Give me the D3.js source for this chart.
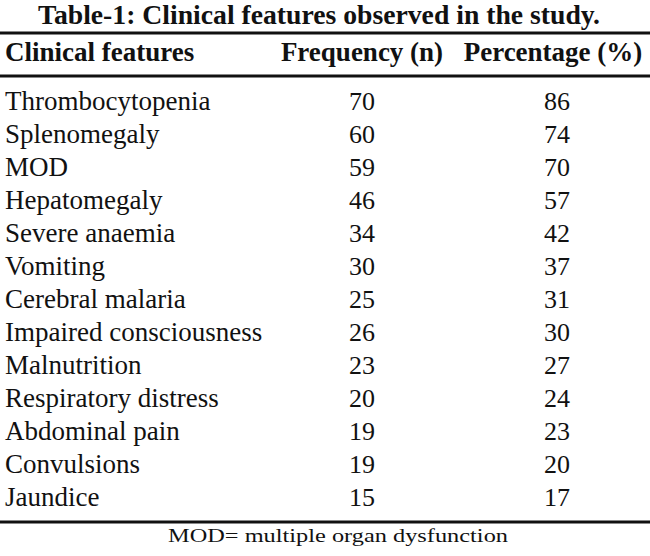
<!DOCTYPE html>
<html>
<head>
<meta charset="utf-8">
<script src="https://cdn.jsdelivr.net/npm/d3@7"></script>
<style>
  body { margin: 0; background: #fff; }
  text { font-family: "Liberation Serif", "Times New Roman", serif; fill: #111; }
</style>
</head>
<body>
<div id="chart"></div>
<script>
// table content
const title = "Table-1: Clinical features observed in the study.";
const headers = ["Clinical features", "Frequency (n)", "Percentage (%)"];
const features = ["Thrombocytopenia", "Splenomegaly", "MOD", "Hepatomegaly", "Severe anaemia",
  "Vomiting", "Cerebral malaria", "Impaired consciousness", "Malnutrition",
  "Respiratory distress", "Abdominal pain", "Convulsions", "Jaundice"];
const frequency = [70, 60, 59, 46, 34, 30, 25, 26, 23, 20, 19, 19, 15];
const percentage = [86, 74, 70, 57, 42, 37, 31, 30, 27, 24, 23, 20, 17];
const footnote = "MOD= multiple organ dysfunction";

const width = 650, height = 556;

const svg = d3.select("#chart").append("svg")
    .attr("width", width)
    .attr("height", height);

// row positions (centre of each line of text)
const y = d3.scalePoint().domain(features).range([101, 497]);
const capHalf = 9;

// column positions
const colX = [5, 362, 553];

// title
svg.append("text")
    .attr("x", 319).attr("y", 24)
    .attr("text-anchor", "middle")
    .attr("font-size", 27).attr("font-weight", "bold")
    .attr("textLength", 562).attr("lengthAdjust", "spacingAndGlyphs")
    .text(title);

// rules
const rules = [33, 76, 522];
svg.selectAll("line.rule").data(rules).enter()
  .append("line").attr("class", "rule")
    .attr("x1", 0).attr("x2", width)
    .attr("y1", d => d).attr("y2", d => d)
    .attr("stroke", "#111").attr("stroke-width", 3);

// header
svg.selectAll("text.head").data(headers).enter()
  .append("text").attr("class", "head")
    .attr("x", (d, i) => colX[i])
    .attr("y", 61)
    .attr("text-anchor", (d, i) => i == 0 ? "start" : "middle")
    .attr("font-size", 27).attr("font-weight", "bold")
    .text(d => d);

// body rows
const rows = svg.selectAll("g.row").data(features).enter()
  .append("g").attr("class", "row")
    .attr("transform", d => "translate(0," + (y(d) + capHalf) + ")");

rows.append("text")
    .attr("x", colX[0])
    .attr("font-size", 27)
    .text(d => d);

rows.append("text")
    .attr("x", colX[1])
    .attr("text-anchor", "middle")
    .attr("font-size", 26)
    .text((d, i) => frequency[i]);

rows.append("text")
    .attr("x", colX[2] + 4)
    .attr("text-anchor", "middle")
    .attr("font-size", 26)
    .text((d, i) => percentage[i]);

// footnote
svg.append("text")
    .attr("x", 338).attr("y", 542)
    .attr("text-anchor", "middle")
    .attr("font-size", 19)
    .attr("textLength", 340).attr("lengthAdjust", "spacingAndGlyphs")
    .text(footnote);
</script>
</body>
</html>
